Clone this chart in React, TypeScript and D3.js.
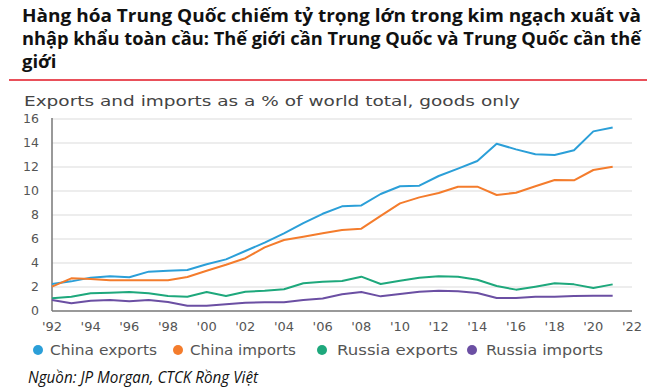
import React from "react";
import * as d3 from "d3";

const years = [1992,1993,1994,1995,1996,1997,1998,1999,2000,2001,2002,2003,2004,2005,2006,2007,2008,2009,2010,2011,2012,2013,2014,2015,2016,2017,2018,2019,2020,2021];
const chinaExports = [2.25,2.47,2.78,2.89,2.81,3.28,3.36,3.42,3.89,4.3,5.0,5.7,6.47,7.33,8.1,8.72,8.8,9.75,10.4,10.44,11.25,11.86,12.5,13.94,13.47,13.06,13.0,13.39,14.97,15.3];
const chinaImports = [2.03,2.72,2.67,2.56,2.56,2.56,2.56,2.83,3.36,3.85,4.4,5.3,5.92,6.19,6.47,6.75,6.86,7.92,8.97,9.47,9.83,10.36,10.36,9.67,9.86,10.39,10.92,10.89,11.75,12.03];
const russiaExports = [1.06,1.19,1.47,1.53,1.58,1.47,1.25,1.19,1.58,1.25,1.61,1.69,1.81,2.31,2.43,2.5,2.86,2.25,2.53,2.78,2.89,2.86,2.61,2.08,1.78,2.03,2.31,2.22,1.92,2.22];
const russiaImports = [0.92,0.64,0.86,0.92,0.81,0.92,0.75,0.44,0.44,0.56,0.69,0.72,0.72,0.92,1.05,1.39,1.58,1.22,1.42,1.6,1.69,1.64,1.5,1.08,1.08,1.19,1.19,1.25,1.28,1.28];

const seriesNames = ["China exports", "China imports", "Russia exports", "Russia imports"];
const seriesColors = ["#2b9fd8", "#f47c2c", "#1ea87c", "#6b4fa3"];
const seriesValues = [chinaExports, chinaImports, russiaExports, russiaImports];

const yTicks = [0, 2, 4, 6, 8, 10, 12, 14, 16];
const xTicks = [1992,1994,1996,1998,2000,2002,2004,2006,2008,2010,2012,2014,2016,2018,2020,2022];

const titleLines = [
  "Hàng hóa Trung Quốc chiếm tỷ trọng lớn trong kim ngạch xuất và",
  "nhập khẩu toàn cầu: Thế giới cần Trung Quốc và Trung Quốc cần thế",
  "giới",
];
const subtitle = "Exports and imports as a % of world total, goods only";
const source = "Nguồn: JP Morgan, CTCK Rồng Việt";

export default function App() {
  const x = d3.scaleLinear().domain([1992, 2022]).range([52, 632]);
  const y = d3.scaleLinear().domain([0, 16]).range([311, 119]);
  const line = d3
    .line<[number, number]>()
    .x((d) => x(d[0]))
    .y((d) => y(d[1]));

  const legendDotX = [38, 178, 322, 472];
  const legendTextX = [50, 190, 337, 486];
  const legendTextW = [107, 106, 121, 117];

  const axisFont = "'DejaVu Sans', sans-serif";

  return (
    <svg
      width={660}
      height={390}
      style={{ position: "absolute", left: 0, top: 0, background: "#fff" }}
    >
      <rect x={0} y={0} width={660} height={390} fill="#fff" />
      {titleLines.map((t, i) => (
        <text
          key={i}
          x={22}
          y={21.5 + i * 23}
          fontFamily="'Open Sans', sans-serif"
          fontWeight={700}
          fontSize={18.5}
          fill="#111"
          textLength={i < 2 ? 619 : undefined}
          lengthAdjust={i < 2 ? "spacingAndGlyphs" : undefined}
        >
          {t}
        </text>
      ))}
      <line x1={9} x2={647} y1={80} y2={80} stroke="#e9505a" strokeWidth={2} />
      <text
        x={24}
        y={106}
        fontFamily={axisFont}
        fontSize={14}
        fill="#444"
        textLength={496}
        lengthAdjust="spacingAndGlyphs"
      >
        {subtitle}
      </text>
      {yTicks.map((v) => (
        <g key={v}>
          {v > 0 && (
            <line x1={52} x2={632} y1={y(v)} y2={y(v)} stroke="#dcdcdc" strokeWidth={1.2} />
          )}
          <text
            x={39}
            y={y(v)}
            dy="0.35em"
            textAnchor="end"
            fontFamily={axisFont}
            fontSize={12.5}
            fill="#555"
          >
            {v}
          </text>
        </g>
      ))}
      <line x1={52} x2={632} y1={y(0)} y2={y(0)} stroke="#777" strokeWidth={1.5} />
      <line x1={52} x2={52} y1={y(16) - 1} y2={y(0)} stroke="#777" strokeWidth={1.5} />
      {xTicks.map((yr) => (
        <text
          key={yr}
          x={x(yr)}
          y={326}
          dy="0.35em"
          textAnchor="middle"
          fontFamily={axisFont}
          fontSize={13}
          fill="#555"
        >
          {"'" + String(yr).slice(2)}
        </text>
      ))}
      {seriesValues.map((vals, i) => (
        <path
          key={i}
          d={line(years.map((yr, j) => [yr, vals[j]] as [number, number])) || ""}
          fill="none"
          stroke={seriesColors[i]}
          strokeWidth={2}
          strokeLinejoin="round"
        />
      ))}
      {seriesNames.map((n, i) => (
        <g key={n}>
          <circle cx={legendDotX[i]} cy={350} r={5} fill={seriesColors[i]} />
          <text
            x={legendTextX[i]}
            y={350}
            dy="0.35em"
            fontFamily={axisFont}
            fontSize={13.5}
            fill="#555"
            textLength={legendTextW[i]}
            lengthAdjust="spacingAndGlyphs"
          >
            {n}
          </text>
        </g>
      ))}
      <text
        x={28}
        y={383}
        fontFamily="'Open Sans', sans-serif"
        fontStyle="italic"
        fontSize={17}
        fill="#111"
        textLength={230}
        lengthAdjust="spacingAndGlyphs"
      >
        {source}
      </text>
    </svg>
  );
}
